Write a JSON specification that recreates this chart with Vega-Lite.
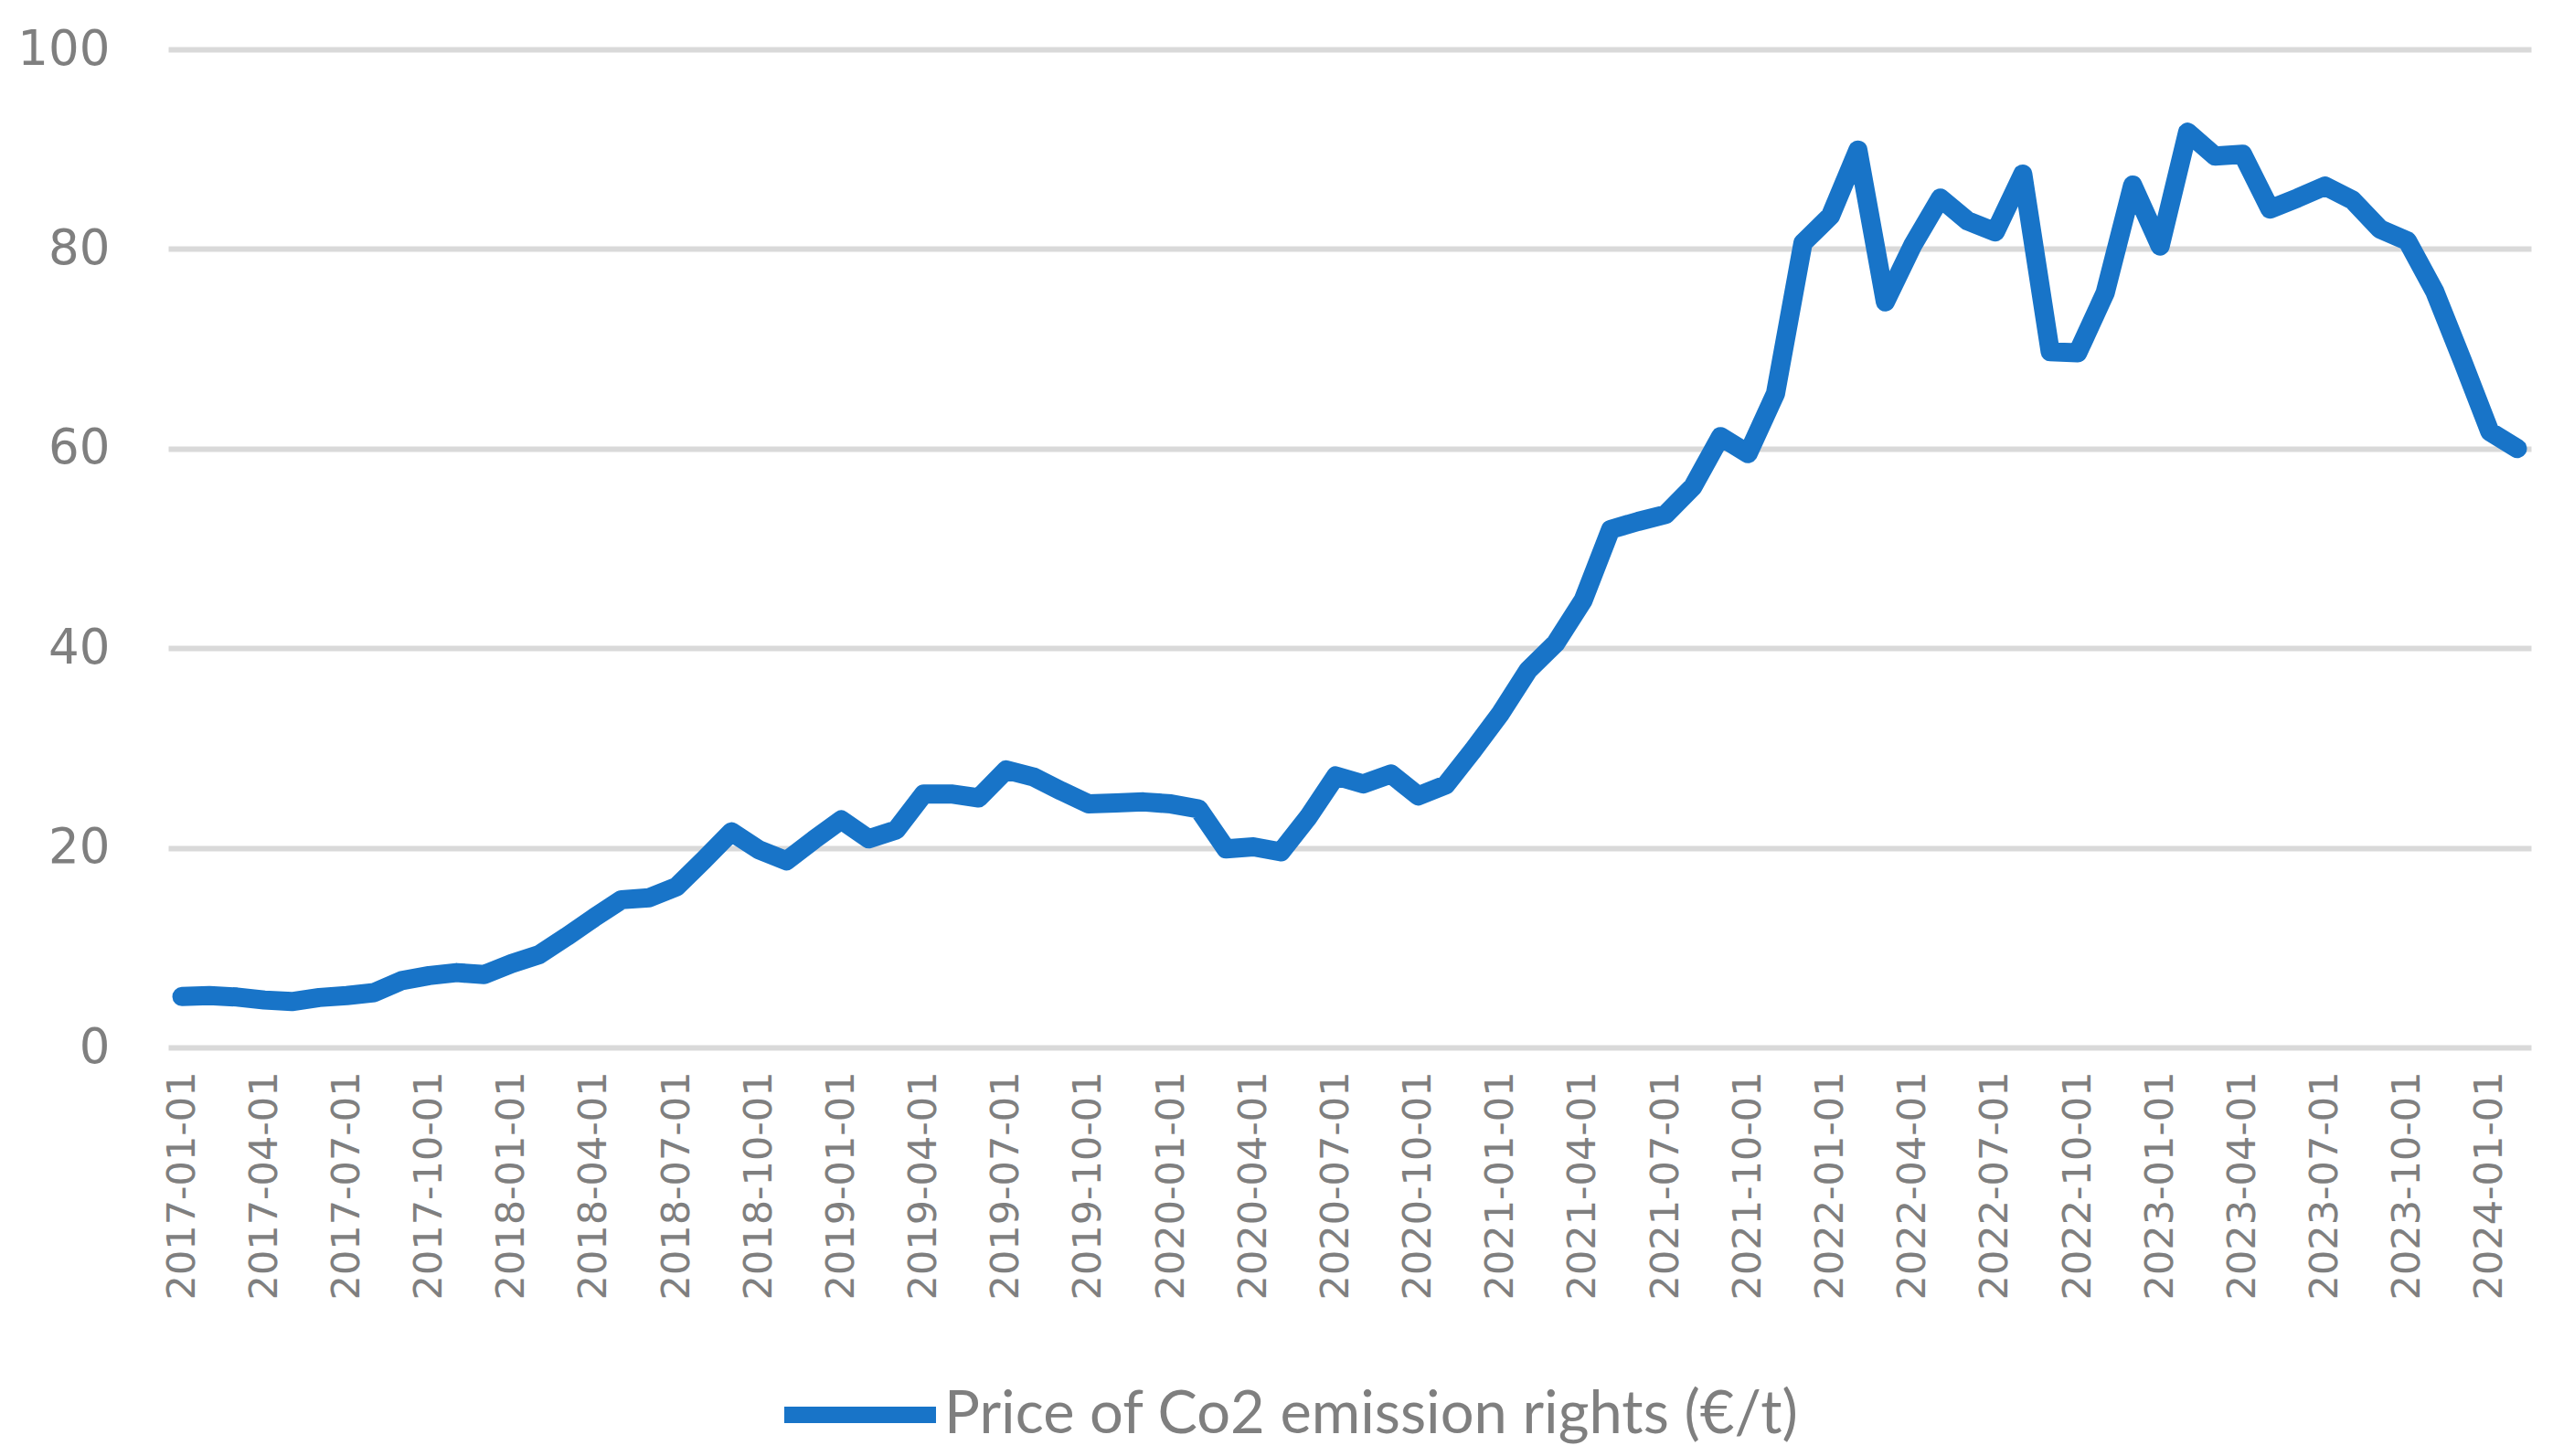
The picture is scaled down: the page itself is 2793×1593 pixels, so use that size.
{
  "$schema": "https://vega.github.io/schema/vega-lite/v6.json",
  "autosize": {"type": "none"},
  "width": 2585,
  "height": 1092,
  "padding": {"left": 184, "top": 54, "right": 24, "bottom": 447},
  "background": "white",
  "config": {"view": {"stroke": null}},
  "data": {
    "values": [
      {"date": "2017-01-01", "price": 5.1, "series": "Price of Co2 emission rights (€/t)"},
      {"date": "2017-02-01", "price": 5.2, "series": "Price of Co2 emission rights (€/t)"},
      {"date": "2017-03-01", "price": 5.05, "series": "Price of Co2 emission rights (€/t)"},
      {"date": "2017-04-01", "price": 4.75, "series": "Price of Co2 emission rights (€/t)"},
      {"date": "2017-05-01", "price": 4.6, "series": "Price of Co2 emission rights (€/t)"},
      {"date": "2017-06-01", "price": 5.0, "series": "Price of Co2 emission rights (€/t)"},
      {"date": "2017-07-01", "price": 5.2, "series": "Price of Co2 emission rights (€/t)"},
      {"date": "2017-08-01", "price": 5.5, "series": "Price of Co2 emission rights (€/t)"},
      {"date": "2017-09-01", "price": 6.7, "series": "Price of Co2 emission rights (€/t)"},
      {"date": "2017-10-01", "price": 7.2, "series": "Price of Co2 emission rights (€/t)"},
      {"date": "2017-11-01", "price": 7.5, "series": "Price of Co2 emission rights (€/t)"},
      {"date": "2017-12-01", "price": 7.3, "series": "Price of Co2 emission rights (€/t)"},
      {"date": "2018-01-01", "price": 8.4, "series": "Price of Co2 emission rights (€/t)"},
      {"date": "2018-02-01", "price": 9.3, "series": "Price of Co2 emission rights (€/t)"},
      {"date": "2018-03-01", "price": 11.1, "series": "Price of Co2 emission rights (€/t)"},
      {"date": "2018-04-01", "price": 13.0, "series": "Price of Co2 emission rights (€/t)"},
      {"date": "2018-05-01", "price": 14.8, "series": "Price of Co2 emission rights (€/t)"},
      {"date": "2018-06-01", "price": 15.0, "series": "Price of Co2 emission rights (€/t)"},
      {"date": "2018-07-01", "price": 16.1, "series": "Price of Co2 emission rights (€/t)"},
      {"date": "2018-08-01", "price": 18.8, "series": "Price of Co2 emission rights (€/t)"},
      {"date": "2018-09-01", "price": 21.6, "series": "Price of Co2 emission rights (€/t)"},
      {"date": "2018-10-01", "price": 19.8, "series": "Price of Co2 emission rights (€/t)"},
      {"date": "2018-11-01", "price": 18.7, "series": "Price of Co2 emission rights (€/t)"},
      {"date": "2018-12-01", "price": 20.8, "series": "Price of Co2 emission rights (€/t)"},
      {"date": "2019-01-01", "price": 22.8, "series": "Price of Co2 emission rights (€/t)"},
      {"date": "2019-02-01", "price": 20.9, "series": "Price of Co2 emission rights (€/t)"},
      {"date": "2019-03-01", "price": 21.8, "series": "Price of Co2 emission rights (€/t)"},
      {"date": "2019-04-01", "price": 25.4, "series": "Price of Co2 emission rights (€/t)"},
      {"date": "2019-05-01", "price": 25.4, "series": "Price of Co2 emission rights (€/t)"},
      {"date": "2019-06-01", "price": 25.0, "series": "Price of Co2 emission rights (€/t)"},
      {"date": "2019-07-01", "price": 27.8, "series": "Price of Co2 emission rights (€/t)"},
      {"date": "2019-08-01", "price": 27.1, "series": "Price of Co2 emission rights (€/t)"},
      {"date": "2019-09-01", "price": 25.7, "series": "Price of Co2 emission rights (€/t)"},
      {"date": "2019-10-01", "price": 24.4, "series": "Price of Co2 emission rights (€/t)"},
      {"date": "2019-11-01", "price": 24.5, "series": "Price of Co2 emission rights (€/t)"},
      {"date": "2019-12-01", "price": 24.6, "series": "Price of Co2 emission rights (€/t)"},
      {"date": "2020-01-01", "price": 24.4, "series": "Price of Co2 emission rights (€/t)"},
      {"date": "2020-02-01", "price": 23.9, "series": "Price of Co2 emission rights (€/t)"},
      {"date": "2020-03-01", "price": 19.9, "series": "Price of Co2 emission rights (€/t)"},
      {"date": "2020-04-01", "price": 20.1, "series": "Price of Co2 emission rights (€/t)"},
      {"date": "2020-05-01", "price": 19.6, "series": "Price of Co2 emission rights (€/t)"},
      {"date": "2020-06-01", "price": 23.1, "series": "Price of Co2 emission rights (€/t)"},
      {"date": "2020-07-01", "price": 27.2, "series": "Price of Co2 emission rights (€/t)"},
      {"date": "2020-08-01", "price": 26.4, "series": "Price of Co2 emission rights (€/t)"},
      {"date": "2020-09-01", "price": 27.4, "series": "Price of Co2 emission rights (€/t)"},
      {"date": "2020-10-01", "price": 25.2, "series": "Price of Co2 emission rights (€/t)"},
      {"date": "2020-11-01", "price": 26.3, "series": "Price of Co2 emission rights (€/t)"},
      {"date": "2020-12-01", "price": 29.8, "series": "Price of Co2 emission rights (€/t)"},
      {"date": "2021-01-01", "price": 33.5, "series": "Price of Co2 emission rights (€/t)"},
      {"date": "2021-02-01", "price": 37.8, "series": "Price of Co2 emission rights (€/t)"},
      {"date": "2021-03-01", "price": 40.5, "series": "Price of Co2 emission rights (€/t)"},
      {"date": "2021-04-01", "price": 44.8, "series": "Price of Co2 emission rights (€/t)"},
      {"date": "2021-05-01", "price": 51.9, "series": "Price of Co2 emission rights (€/t)"},
      {"date": "2021-06-01", "price": 52.7, "series": "Price of Co2 emission rights (€/t)"},
      {"date": "2021-07-01", "price": 53.4, "series": "Price of Co2 emission rights (€/t)"},
      {"date": "2021-08-01", "price": 56.2, "series": "Price of Co2 emission rights (€/t)"},
      {"date": "2021-09-01", "price": 61.2, "series": "Price of Co2 emission rights (€/t)"},
      {"date": "2021-10-01", "price": 59.5, "series": "Price of Co2 emission rights (€/t)"},
      {"date": "2021-11-01", "price": 65.5, "series": "Price of Co2 emission rights (€/t)"},
      {"date": "2021-12-01", "price": 80.6, "series": "Price of Co2 emission rights (€/t)"},
      {"date": "2022-01-01", "price": 83.3, "series": "Price of Co2 emission rights (€/t)"},
      {"date": "2022-02-01", "price": 89.9, "series": "Price of Co2 emission rights (€/t)"},
      {"date": "2022-03-01", "price": 74.7, "series": "Price of Co2 emission rights (€/t)"},
      {"date": "2022-04-01", "price": 80.4, "series": "Price of Co2 emission rights (€/t)"},
      {"date": "2022-05-01", "price": 85.1, "series": "Price of Co2 emission rights (€/t)"},
      {"date": "2022-06-01", "price": 82.8, "series": "Price of Co2 emission rights (€/t)"},
      {"date": "2022-07-01", "price": 81.7, "series": "Price of Co2 emission rights (€/t)"},
      {"date": "2022-08-01", "price": 87.5, "series": "Price of Co2 emission rights (€/t)"},
      {"date": "2022-09-01", "price": 69.7, "series": "Price of Co2 emission rights (€/t)"},
      {"date": "2022-10-01", "price": 69.6, "series": "Price of Co2 emission rights (€/t)"},
      {"date": "2022-11-01", "price": 75.6, "series": "Price of Co2 emission rights (€/t)"},
      {"date": "2022-12-01", "price": 86.4, "series": "Price of Co2 emission rights (€/t)"},
      {"date": "2023-01-01", "price": 80.3, "series": "Price of Co2 emission rights (€/t)"},
      {"date": "2023-02-01", "price": 91.7, "series": "Price of Co2 emission rights (€/t)"},
      {"date": "2023-03-01", "price": 89.3, "series": "Price of Co2 emission rights (€/t)"},
      {"date": "2023-04-01", "price": 89.5, "series": "Price of Co2 emission rights (€/t)"},
      {"date": "2023-05-01", "price": 84.0, "series": "Price of Co2 emission rights (€/t)"},
      {"date": "2023-06-01", "price": 85.1, "series": "Price of Co2 emission rights (€/t)"},
      {"date": "2023-07-01", "price": 86.3, "series": "Price of Co2 emission rights (€/t)"},
      {"date": "2023-08-01", "price": 84.9, "series": "Price of Co2 emission rights (€/t)"},
      {"date": "2023-09-01", "price": 82.0, "series": "Price of Co2 emission rights (€/t)"},
      {"date": "2023-10-01", "price": 80.8, "series": "Price of Co2 emission rights (€/t)"},
      {"date": "2023-11-01", "price": 75.7, "series": "Price of Co2 emission rights (€/t)"},
      {"date": "2023-12-01", "price": 68.8, "series": "Price of Co2 emission rights (€/t)"},
      {"date": "2024-01-01", "price": 61.7, "series": "Price of Co2 emission rights (€/t)"},
      {"date": "2024-02-01", "price": 60.0, "series": "Price of Co2 emission rights (€/t)"}
    ]
  },
  "mark": {"type": "line", "strokeWidth": 21, "strokeCap": "round", "strokeJoin": "round"},
  "encoding": {
    "x": {
      "field": "date",
      "type": "ordinal",
      "scale": {"type": "point", "padding": 0.5},
      "axis": {
        "title": null,
        "values": ["2017-01-01","2017-04-01","2017-07-01","2017-10-01","2018-01-01","2018-04-01","2018-07-01","2018-10-01","2019-01-01","2019-04-01","2019-07-01","2019-10-01","2020-01-01","2020-04-01","2020-07-01","2020-10-01","2021-01-01","2021-04-01","2021-07-01","2021-10-01","2022-01-01","2022-04-01","2022-07-01","2022-10-01","2023-01-01","2023-04-01","2023-07-01","2023-10-01","2024-01-01"],
        "labelAngle": -90,
        "labelFont": "DejaVu Sans",
        "labelFontSize": 43,
        "labelColor": "#7f7f7f",
        "labelPadding": 26,
        "labelLimit": 1000,
        "ticks": false,
        "domain": false,
        "grid": false,
        "labelOverlap": false
      }
    },
    "y": {
      "field": "price",
      "type": "quantitative",
      "scale": {"domain": [0, 100]},
      "axis": {
        "title": null,
        "values": [0, 20, 40, 60, 80, 100],
        "labelFont": "DejaVu Sans",
        "labelFontSize": 53,
        "labelColor": "#7f7f7f",
        "labelPadding": 64,
        "ticks": false,
        "domain": false,
        "grid": true,
        "gridColor": "#d9d9d9",
        "gridWidth": 6
      }
    },
    "color": {
      "field": "series",
      "type": "nominal",
      "scale": {"range": ["#1874c8"]},
      "legend": {
        "title": null,
        "orient": "none",
        "legendX": 665,
        "legendY": 1402,
        "padding": 0,
        "symbolType": "stroke",
        "symbolSize": 27556,
        "symbolStrokeWidth": 18,
        "labelFont": "Lato",
        "labelFontSize": 65,
        "labelColor": "#7f7f7f",
        "labelOffset": 0,
        "labelLimit": 2000
      }
    }
  }
}
